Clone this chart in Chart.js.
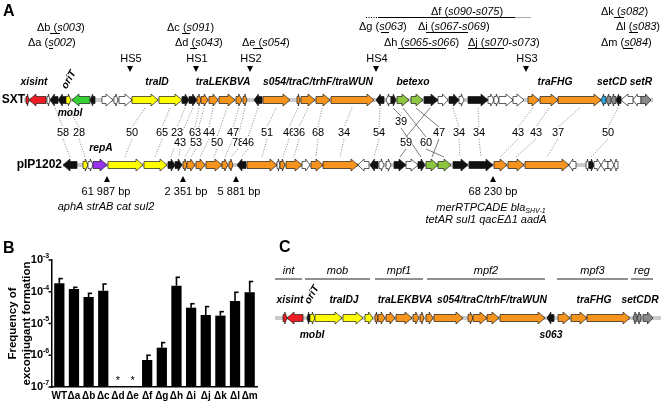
<!DOCTYPE html>
<html>
<head>
<meta charset="utf-8">
<script src="https://cdn.jsdelivr.net/npm/chart.js@4.4.1/dist/chart.umd.min.js"></script>
<style>
  html, body { margin: 0; padding: 0; background: #fff; }
  #wrap { position: relative; width: 662px; height: 406px; overflow: hidden; }
  #mapCanvas { position: absolute; left: 0; top: 0; }
  #barCanvas { position: absolute; left: 0; top: 235px; }
</style>
</head>
<body>
<div id="wrap">
  <canvas id="mapCanvas" width="662" height="406"></canvas>
  <canvas id="barCanvas" width="262" height="171"></canvas>
</div>
<script>
// ---- Panel B data ----
const strains = ["WT", "Δa", "Δb", "Δc", "Δd", "Δe", "Δf", "Δg", "Δh", "Δi", "Δj", "Δk", "Δl", "Δm"];
const freqMean = [1.85e-4, 1.22e-4, 6.8e-5, 1.08e-4, null, null, 7.1e-7, 1.73e-6, 1.55e-4, 3.15e-5, 1.85e-5, 1.77e-5, 5.1e-5, 9.6e-5];
const freqUpper = [2.6e-4, 1.38e-4, 8.9e-5, 1.75e-4, null, null, 1.0e-6, 2.5e-6, 2.85e-4, 4.2e-5, 3.4e-5, 2.36e-5, 9.6e-5, 2.1e-4];
const notDetected = ["Δd", "Δe"];
const yTickExps = [-3, -4, -5, -6, -7];

// ---- Panel A / C data (map units) ----
// gene = [start, end, strand, colour]
const sxtGenes = [
  [26, 29, 1, "r"], [29, 46, -1, "r"], [47, 50, 1, "w"], [50, 58, -1, "k"], [58, 66, -1, "k"], [66, 71, 1, "y"],
  [72, 90, -1, "g"], [90, 95, -1, "k"], [102, 113, 1, "w"], [114, 118, 1, "w"], [119, 132, 1, "w"],
  [132, 158, 1, "y"], [159, 182, 1, "y"], [182, 189, 1, "k"], [189, 197, 1, "k"],
  [197, 201, 1, "o"], [201, 208, 1, "o"], [209, 218, 1, "o"], [219, 235, 1, "o"], [236, 242, 1, "o"], [243, 247, 1, "o"],
  [254, 262, -1, "k"], [263, 290, 1, "o"], [297, 300, 1, "o"], [301, 315, 1, "o"], [316, 330, 1, "o"], [331, 374, 1, "o"],
  [376, 384, -1, "k"], [386, 391, -1, "w"], [391, 396, 1, "k"], [397, 409, 1, "lg"], [411, 423, 1, "lg"],
  [424, 438, 1, "k"], [438, 448, 1, "w"], [449, 459, 1, "k"], [459, 464, 1, "w"], [468, 488, 1, "k"],
  [488, 494, 1, "w"], [494, 499, 1, "w"], [499, 513, 1, "w"], [513, 524, 1, "w"],
  [528, 539, 1, "o"], [540, 558, 1, "o"], [558, 601, 1, "o"], [601, 606, -1, "b"], [606, 611, -1, "gr"],
  [611, 616, -1, "gr"], [616, 621, -1, "k"], [621, 633, -1, "w"], [633, 641, -1, "w"], [641, 651, 1, "gr"]
];
const pipGenes = [
  [63, 77, -1, "k"], [83, 88, 1, "y"], [88, 93, 1, "w"], [93, 107, 1, "p"], [108, 143, 1, "y"], [144, 167, 1, "y"],
  [168, 175, 1, "k"], [175, 182, 1, "k"], [183, 187, 1, "o"], [187, 195, 1, "o"], [196, 205, 1, "o"],
  [206, 222, 1, "o"], [222, 228, 1, "o"], [229, 233, 1, "o"], [237, 246, -1, "k"], [247, 277, 1, "o"],
  [277, 280, 1, "w"], [280, 285, 1, "o"], [286, 302, 1, "o"], [302, 310, 1, "w"], [311, 323, 1, "o"],
  [323, 358, 1, "o"], [358, 369, -1, "w"], [370, 378, -1, "k"], [379, 384, 1, "w"], [386, 391, 1, "w"],
  [394, 406, 1, "k"], [406, 418, 1, "w"], [418, 425, 1, "k"], [426, 438, 1, "lg"], [438, 451, 1, "lg"],
  [453, 468, 1, "k"], [469, 493, 1, "k"], [494, 507, 1, "o"], [508, 524, 1, "o"], [525, 569, 1, "o"],
  [569, 576, -1, "w"], [586, 589, 1, "w"], [589, 594, 1, "k"], [594, 601, 1, "w"], [601, 608, -1, "w"],
  [608, 614, 1, "w"], [614, 618, -1, "w"]
];
const coreGenes = [
  [283, 287, 1, "r"], [287, 303, -1, "r"], [307, 310, -1, "k"], [310, 315, 1, "y"], [315, 342, 1, "y"],
  [343, 363, 1, "y"], [365, 373, 1, "y"], [375, 378, 1, "o"], [378, 385, 1, "o"], [386, 395, 1, "o"],
  [396, 412, 1, "o"], [413, 419, 1, "o"], [420, 424, 1, "o"], [426, 433, 1, "o"], [434, 463, 1, "o"],
  [468, 473, 1, "o"], [473, 487, 1, "o"], [487, 499, 1, "o"], [500, 545, 1, "o"], [547, 554, -1, "k"],
  [558, 570, 1, "o"], [571, 587, 1, "o"], [587, 630, 1, "o"], [633, 637, -1, "gr"], [637, 641, -1, "gr"],
  [643, 653, 1, "gr"]
];

const delNames = ["Δa", "Δb", "Δc", "Δd", "Δe", "Δf", "Δg", "Δh", "Δi", "Δj", "Δk", "Δl", "Δm"];
const delGenes = ["s002", "s003", "s091", "s043", "s054", "s090-s075", "s063", "s065-s066", "s067-s069", "s070-s073", "s082", "s083", "s084"];
const hsNames = ["HS5", "HS1", "HS2", "HS4", "HS3"];
const hsPos = [130, 196, 250, 376, 526];
const identity = ["58", "28", "50", "65", "23", "43", "63", "53", "44", "50", "47", "78", "46", "51", "46", "36", "68", "34", "54", "39", "59", "60", "47", "34", "34", "43", "43", "37", "50"];
const identSxt = [55, 68, 145, 170, 185, 193, 199, 204, 213, 227, 239, 245, 258, 276, 298, 308, 322, 352, 380, 393, 430, 403, 416, 453, 478, 533, 549, 580, 618];
const identPip = [70, 85, 125, 155, 171, 179, 185, 191, 200, 214, 225, 231, 241, 262, 283, 294, 316, 340, 374, 421, 400, 444, 432, 460, 481, 500, 516, 547, 591];
const bpLabels = ["61 987 bp", "2 351 bp", "5 881 bp", "68 230 bp"];
const bpPos = [107, 183, 236, 493];
const modules = ["int", "mob", "mpf1", "mpf2", "mpf3", "reg"];
const moduleSpan = [[275, 302], [305, 370], [375, 423], [427, 545], [557, 628], [631, 653]];

// ---- layout / style ----
const FAM = "'Liberation Sans', Arial, sans-serif";
const geneColors = { r: "#ee1d23", y: "#ffff00", g: "#35d135", lg: "#8dc63f", o: "#f7941d", k: "#111111", w: "#ffffff", p: "#9933ee", b: "#2aaae2", gr: "#8a8a8a" };
const delTextX = [28, 37, 167, 175, 242, 431, 359, 384, 418, 468, 601, 616, 601];
const delRowY = [43, 28, 28, 43, 43, 12, 27, 43, 27, 43, 12, 27, 43];
const delLine = [[49, 53], [50, 60], [182, 190], [190, 197], [253, 263], null, [381, 389], [398, 446], [426, 468], [468, 504], [614, 624], [629, 638], [623, 633]];
const identLabelX = [63, 79, 132, 162, 177, 180, 195, 196, 209, 217, 233, 238, 248, 267, 289, 299, 318, 344, 379, 401, 406, 426, 439, 459, 479, 518, 536, 558, 608];
const identRow = [1, 1, 1, 1, 1, 2, 1, 2, 1, 2, 1, 2, 2, 1, 1, 1, 1, 1, 1, 0, 2, 2, 1, 1, 1, 1, 1, 1, 1];
const identSolid = [19, 20, 21, 22];
const rowY = [122, 133, 143];
const bpTextX = [106, 186, 239, 493];
const TRACK_SXT = 100, TRACK_PIP = 165, TRACK_CORE = 318;

Chart.defaults.font.family = FAM;
Chart.defaults.color = "#000";

function fnt(size, style) {
  return (style || "") + " " + size + "px " + FAM;
}

function rich(ctx, x, y, parts, align) {
  let w = 0;
  parts.forEach((p) => { ctx.font = p[1]; w += ctx.measureText(p[0]).width; });
  let cx = align === "center" ? x - w / 2 : align === "right" ? x - w : x;
  ctx.textAlign = "left";
  parts.forEach((p) => {
    ctx.font = p[1];
    ctx.fillText(p[0], cx, y + (p[2] || 0));
    cx += ctx.measureText(p[0]).width;
  });
}

function drawGene(ctx, X, Y, g, track) {
  const [a, b, dir, c] = g;
  const x1 = X(a), x2 = X(b), yc = Y(track);
  const len = x2 - x1;
  const bh = 3.5, hh = 6;
  const hl = len < 11 ? len * 0.55 : 7;
  ctx.beginPath();
  if (dir > 0) {
    ctx.moveTo(x1, yc - bh); ctx.lineTo(x2 - hl, yc - bh); ctx.lineTo(x2 - hl, yc - hh); ctx.lineTo(x2, yc);
    ctx.lineTo(x2 - hl, yc + hh); ctx.lineTo(x2 - hl, yc + bh); ctx.lineTo(x1, yc + bh);
  } else {
    ctx.moveTo(x2, yc - bh); ctx.lineTo(x1 + hl, yc - bh); ctx.lineTo(x1 + hl, yc - hh); ctx.lineTo(x1, yc);
    ctx.lineTo(x1 + hl, yc + hh); ctx.lineTo(x1 + hl, yc + bh); ctx.lineTo(x2, yc + bh);
  }
  ctx.closePath();
  ctx.fillStyle = geneColors[c];
  ctx.fill();
  ctx.strokeStyle = "#1a1a1a";
  ctx.lineWidth = 0.7;
  ctx.stroke();
}

function backbone(ctx, X, Y, genes, track, pad) {
  ctx.strokeStyle = "#cbcbcb";
  ctx.lineWidth = 4;
  ctx.beginPath();
  ctx.moveTo(X(genes[0][0] - pad), Y(track));
  ctx.lineTo(X(genes[genes.length - 1][1] + pad), Y(track));
  ctx.stroke();
}

function line(ctx, x1, y1, x2, y2) {
  ctx.beginPath(); ctx.moveTo(x1, y1); ctx.lineTo(x2, y2); ctx.stroke();
}

function tri(ctx, x, yTip, up) {
  ctx.beginPath();
  const h = up ? 6 : -6;
  ctx.moveTo(x, yTip); ctx.lineTo(x - 3, yTip + h); ctx.lineTo(x + 3, yTip + h); ctx.closePath();
  ctx.fillStyle = "#000"; ctx.fill();
}

// Mapa genético (painéis A e C)
const mapPlugin = {
  id: "geneMap",
  afterDraw(chart) {
    const ctx = chart.ctx;
    const X = (v) => chart.scales.x.getPixelForValue(v);
    const Y = (v) => chart.scales.y.getPixelForValue(v);
    ctx.save();
    ctx.fillStyle = "#000";
    ctx.textBaseline = "middle";

    // letras dos painéis
    ctx.font = fnt(16, "bold");
    ctx.textAlign = "left";
    ctx.fillText("A", 3, 12);
    ctx.fillText("B", 3, 249);
    ctx.fillText("C", 279, 248);

    // deleções
    delNames.forEach((d, i) => {
      ctx.fillStyle = "#000";
      rich(ctx, X(delTextX[i]), Y(delRowY[i]), [[d + " (", fnt(11)], [delGenes[i], fnt(11, "italic")], [")", fnt(11)]], "left");
      const ln = delLine[i];
      if (ln) {
        ctx.strokeStyle = "#000"; ctx.lineWidth = 1;
        line(ctx, X(ln[0]), Y(delRowY[i] + 5.5), X(ln[1]), Y(delRowY[i] + 5.5));
      }
    });
    ctx.lineWidth = 1;
    ctx.strokeStyle = "#000";
    ctx.setLineDash([1, 1.5]);
    line(ctx, X(366), Y(17.5), X(378), Y(17.5));
    ctx.setLineDash([]);
    line(ctx, X(378), Y(17.5), X(515), Y(17.5));
    ctx.strokeStyle = "#aaa";
    line(ctx, X(515), Y(17.5), X(531), Y(17.5));

    // hotspots
    hsNames.forEach((h, i) => {
      ctx.fillStyle = "#000";
      ctx.font = fnt(11);
      ctx.textAlign = "center";
      ctx.fillText(h, X(hsPos[i] + 1), Y(59));
      tri(ctx, X(hsPos[i]), Y(72), false);
    });

    // linhas de identidade
    identity.forEach((t, i) => {
      const ry = rowY[identRow[i]];
      const solid = identSolid.includes(i);
      ctx.strokeStyle = solid ? "#444" : "#666";
      ctx.lineWidth = solid ? 0.7 : 0.8;
      ctx.setLineDash(solid ? [] : [1, 1.6]);
      line(ctx, X(identSxt[i]), Y(108), X(identLabelX[i]), Y(ry - 6));
      line(ctx, X(identLabelX[i]), Y(ry + 6), X(identPip[i]), Y(157));
      ctx.setLineDash([]);
    });
    identity.forEach((t, i) => {
      const ry = rowY[identRow[i]];
      ctx.font = fnt(11);
      const w = ctx.measureText(t).width;
      ctx.fillStyle = "#fff";
      ctx.fillRect(X(identLabelX[i]) - w / 2, Y(ry) - 5, w, 10);
      ctx.fillStyle = "#000";
      ctx.textAlign = "center";
      ctx.fillText(t, X(identLabelX[i]), Y(ry));
    });

    // trilhas
    backbone(ctx, X, Y, sxtGenes, TRACK_SXT, 2);
    backbone(ctx, X, Y, pipGenes, TRACK_PIP, 0);
    backbone(ctx, X, Y, coreGenes, TRACK_CORE, 8);
    sxtGenes.forEach((g) => drawGene(ctx, X, Y, g, TRACK_SXT));
    pipGenes.forEach((g) => drawGene(ctx, X, Y, g, TRACK_PIP));
    coreGenes.forEach((g) => drawGene(ctx, X, Y, g, TRACK_CORE));

    ctx.fillStyle = "#000";
    ctx.font = fnt(12, "bold");
    ctx.textAlign = "right";
    ctx.fillText("SXT", X(25), Y(TRACK_SXT));
    ctx.fillText("pIP1202", X(62), Y(TRACK_PIP));

    // nomes dos genes (A)
    const bi = fnt(10.3, "italic bold");
    ctx.font = bi;
    ctx.textAlign = "center";
    [["xisint", 34], ["traID", 157], ["traLEKBVA", 223], ["s054/traC/trhF/traWUN", 318], ["betexo", 413], ["traFHG", 555], ["setCD", 612], ["setR", 641]]
      .forEach((p) => ctx.fillText(p[0], X(p[1]), Y(82)));
    ctx.fillText("mobI", X(70), Y(113));
    ctx.fillText("repA", X(101), Y(148));
    // nomes dos genes (C)
    [["xisint", 290], ["traIDJ", 344], ["traLEKBVA", 405], ["s054/traC/trhF/traWUN", 492], ["traFHG", 594], ["setCDR", 640]]
      .forEach((p) => ctx.fillText(p[0], X(p[1]), Y(300)));
    ctx.fillText("mobI", X(312), Y(335));
    ctx.fillText("s063", X(551), Y(335));
    [[64, 88], [307, 303]].forEach((p) => {
      ctx.save();
      ctx.translate(X(p[0]), Y(p[1]));
      ctx.rotate(-Math.PI / 3);
      ctx.textAlign = "left";
      ctx.fillText("oriT", 0, 0);
      ctx.restore();
    });

    // posições em pb
    bpLabels.forEach((b, i) => {
      tri(ctx, X(bpPos[i]), Y(176), true);
      ctx.fillStyle = "#000";
      ctx.font = fnt(11);
      ctx.textAlign = "center";
      ctx.fillText(b, X(bpTextX[i]), Y(192));
    });
    ctx.fillStyle = "#000";
    rich(ctx, X(106), Y(207), [["aphA strAB cat sul2", fnt(11, "italic")]], "center");
    rich(ctx, X(491), Y(208), [["merRTPCADE bla", fnt(11, "italic")], ["SHV-1", fnt(7, "italic"), 3]], "center");
    rich(ctx, X(486), Y(220), [["tetAR sul1 qacEΔ1 aadA", fnt(11, "italic")]], "center");

    // módulos (C)
    modules.forEach((m, i) => {
      const [a, b] = moduleSpan[i];
      ctx.strokeStyle = "#222"; ctx.lineWidth = 1;
      line(ctx, X(a), Y(279), X(b), Y(279));
      ctx.fillStyle = "#000";
      ctx.font = fnt(11, "italic");
      ctx.textAlign = "center";
      ctx.fillText(m, X((a + b) / 2), Y(271));
    });
    ctx.restore();
  }
};

new Chart(document.getElementById("mapCanvas"), {
  type: "scatter",
  data: { datasets: [] },
  options: {
    responsive: false,
    animation: false,
    layout: { padding: 0 },
    plugins: { legend: { display: false }, tooltip: { enabled: false } },
    scales: {
      x: { type: "linear", min: 0, max: 662, display: false },
      y: { type: "linear", min: 0, max: 406, reverse: true, display: false }
    }
  },
  plugins: [mapPlugin]
});

// Barras de erro, eixo log e título (painel B)
const barExtras = {
  id: "barExtras",
  afterDatasetsDraw(chart) {
    const ctx = chart.ctx;
    const xs = chart.scales.x, ys = chart.scales.y;
    const area = chart.chartArea;
    ctx.save();
    ctx.strokeStyle = "#000";
    ctx.lineWidth = 1.6;
    freqMean.forEach((v, i) => {
      if (v == null || freqUpper[i] == null) return;
      const x = xs.getPixelForValue(i);
      const y0 = ys.getPixelForValue(v), y1 = ys.getPixelForValue(freqUpper[i]);
      line(ctx, x, y0, x, y1);
      line(ctx, x - 0.8, y1, x + 3.5, y1);
    });
    ctx.fillStyle = "#000";
    ctx.textAlign = "center";
    ctx.textBaseline = "middle";
    ctx.font = fnt(11);
    notDetected.forEach((s) => {
      ctx.fillText("*", xs.getPixelForValue(strains.indexOf(s)), area.bottom - 6);
    });
    // rótulos do eixo y
    yTickExps.forEach((e) => {
      const py = ys.getPixelForValue(Math.pow(10, e));
      ctx.lineWidth = 1.5;
      line(ctx, area.left - 3.5, py, area.left, py);
      ctx.font = fnt(11, "bold");
      ctx.textAlign = "right";
      ctx.fillText("10", area.left - 9, py);
      ctx.font = fnt(7, "bold");
      ctx.textAlign = "left";
      ctx.fillText(String(e), area.left - 9, py - 4);
    });
    ctx.font = fnt(11.5, "bold");
    ctx.textAlign = "center";
    const cy = (area.top + area.bottom) / 2;
    [["Frequency of", 13], ["exconjugant formation", 27]].forEach((p) => {
      ctx.save();
      ctx.translate(p[1], cy);
      ctx.rotate(-Math.PI / 2);
      ctx.fillText(p[0], 0, 0);
      ctx.restore();
    });
    ctx.restore();
  }
};

new Chart(document.getElementById("barCanvas"), {
  type: "bar",
  data: {
    labels: strains,
    datasets: [{ data: freqMean, backgroundColor: "#000", borderWidth: 0, barPercentage: 0.7, categoryPercentage: 1 }]
  },
  options: {
    responsive: false,
    animation: false,
    layout: { padding: { left: 52, top: 25, right: 5, bottom: 1 } },
    plugins: { legend: { display: false }, tooltip: { enabled: false } },
    scales: {
      x: {
        grid: { display: false, drawTicks: false },
        border: { color: "#000", width: 1.5 },
        ticks: { color: "#000", font: { weight: "bold", size: 10 }, padding: 3, maxRotation: 0, autoSkip: false }
      },
      y: {
        type: "logarithmic",
        min: 1e-7,
        max: 1e-3,
        grid: { display: false, drawTicks: false },
        border: { color: "#000", width: 1.5 },
        ticks: { display: false }
      }
    }
  },
  plugins: [barExtras]
});
</script>
</body>
</html>
